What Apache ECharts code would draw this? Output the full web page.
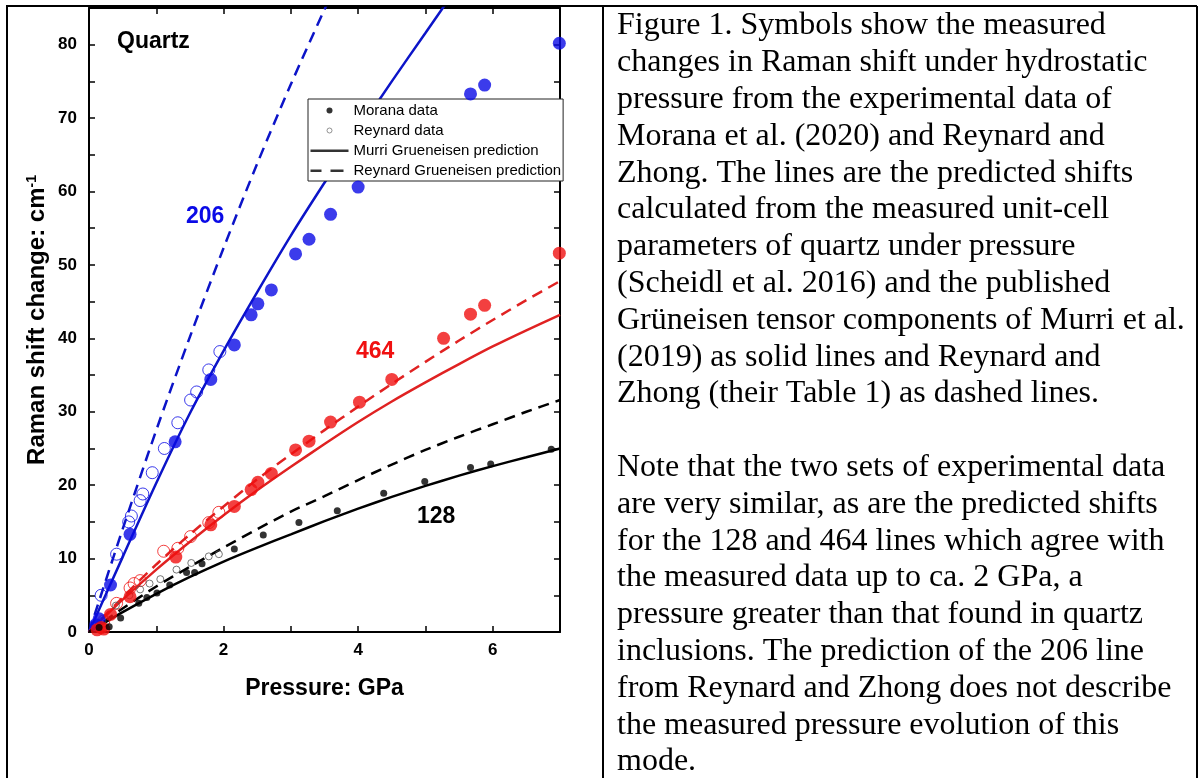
<!DOCTYPE html>
<html>
<head>
<meta charset="utf-8">
<script src="https://cdn.jsdelivr.net/npm/echarts@6/dist/echarts.min.js"></script>
<style>
  html, body { margin: 0; padding: 0; background: #fff; }
  #main { width: 1201px; height: 778px; }
</style>
</head>
<body>
<div id="main"></div>
<script>
var sans = '"Liberation Sans", Arial, sans-serif';
var serif = '"Liberation Serif", "Times New Roman", serif';

// tick labels
var xLabelTicks = [0, 2, 4, 6];
var yLabelTicks = [0, 10, 20, 30, 40, 50, 60, 70, 80];

// 206 mode (blue)
var morana206 = [[0.1, 1.0], [0.15, 1.8], [0.32, 6.4], [0.61, 13.3], [1.28, 25.9], [1.81, 34.4], [2.16, 39.1],
  [2.41, 43.2], [2.51, 44.7], [2.71, 46.6], [3.07, 51.5], [3.27, 53.5], [3.59, 56.9], [4.0, 60.6],
  [5.67, 73.3], [5.88, 74.5], [6.99, 80.2]];
var reynard206 = [[0.18, 5.0], [0.41, 10.6], [0.59, 15.0], [0.63, 15.8], [0.76, 17.9], [0.8, 18.8], [0.94, 21.7],
  [1.12, 25.0], [1.32, 28.5], [1.51, 31.6], [1.6, 32.7], [1.78, 35.7], [1.945, 38.2]];
var murri206 = [[0, 0], [0.5, 10.2], [1, 20.3], [1.5, 29.8], [2, 38.3], [2.5, 46.3], [3, 54.0], [3.5, 61.2],
  [4, 68.2], [4.5, 75.0], [5, 81.6], [5.5, 88.2]];
var reynardPred206 = [[0, 0], [0.5, 14.0], [1, 27.5], [1.5, 40.2], [2, 52.3], [2.5, 63.8], [3, 74.6], [3.5, 84.8], [4, 94.5]];

// 464 mode (red)
var morana464 = [[0.12, 0.3], [0.18, 0.6], [0.22, 0.4], [0.32, 2.4], [0.61, 4.8], [1.29, 10.2], [1.81, 14.6],
  [2.16, 17.1], [2.41, 19.4], [2.51, 20.4], [2.71, 21.6], [3.07, 24.8], [3.27, 26.0], [3.59, 28.6], [4.02, 31.3],
  [4.5, 34.4], [5.27, 40.0], [5.67, 43.3], [5.88, 44.5], [6.99, 51.6]];
var reynard464 = [[0.22, 1.5], [0.41, 3.9], [0.61, 6.0], [0.67, 6.6], [0.76, 7.0], [1.11, 11.0], [1.32, 11.4],
  [1.51, 13.0], [1.78, 14.9], [1.93, 16.3]];
var murri464 = [[0, 0], [0.5, 4.4], [1, 8.5], [1.5, 12.3], [2, 15.9], [2.5, 19.3], [3, 22.5], [3.5, 25.6],
  [4, 28.6], [4.5, 31.4], [5, 34.0], [5.5, 36.5], [6, 38.9], [6.5, 41.1], [7, 43.2]];
var reynardPred464 = [[0, 0], [0.5, 4.7], [1, 9.2], [1.5, 13.3], [2, 17.1], [2.5, 20.8], [3, 24.2], [3.5, 27.5],
  [4, 30.7], [4.5, 33.8], [5, 36.8], [5.5, 39.7], [6, 42.5], [6.5, 45.2], [7, 47.8]];

// 128 mode (black)
var morana128 = [[0.15, 0.6], [0.3, 0.7], [0.47, 1.9], [0.74, 3.9], [0.86, 4.7], [1.01, 5.3], [1.2, 6.4],
  [1.45, 8.1], [1.57, 8.1], [1.68, 9.3], [2.16, 11.3], [2.59, 13.2], [3.12, 14.9], [3.69, 16.5], [4.38, 18.9],
  [4.99, 20.5], [5.67, 22.4], [5.97, 22.9], [6.87, 24.9]];
var reynard128 = [[0.2, 1.5], [0.4, 3.6], [0.6, 5.0], [0.76, 5.8], [0.9, 6.6], [1.06, 7.2], [1.3, 8.5],
  [1.52, 9.4], [1.78, 10.3], [1.93, 10.6]];
var murri128 = [[0, 0], [0.5, 2.7], [1, 5.2], [1.5, 7.5], [2, 9.6], [2.5, 11.5], [3, 13.3], [3.5, 15.1],
  [4, 16.8], [4.5, 18.4], [5, 19.9], [5.5, 21.3], [6, 22.6], [6.5, 23.8], [7, 25.0]];
var reynardPred128 = [[0, 0], [0.5, 3.2], [1, 6.2], [1.5, 8.9], [2, 11.5], [2.5, 14.0], [3, 16.4], [3.5, 18.5],
  [4, 20.7], [4.5, 22.8], [5, 24.8], [5.5, 26.6], [6, 28.3], [6.5, 30.0], [7, 31.6]];

var captionLines = [
  'Figure 1. Symbols show the measured',
  'changes in Raman shift under hydrostatic',
  'pressure from the experimental data of',
  'Morana et al. (2020) and Reynard and',
  'Zhong. The lines are the predicted shifts',
  'calculated from the measured unit-cell',
  'parameters of quartz under pressure',
  '(Scheidl et al. 2016) and the published',
  'Grüneisen tensor components of Murri et al.',
  '(2019) as solid lines and Reynard and',
  'Zhong (their Table 1) as dashed lines.',
  '',
  'Note that the two sets of experimental data',
  'are very similar, as are the predicted shifts',
  'for the 128 and 464 lines which agree with',
  'the measured data up to ca. 2 GPa, a',
  'pressure greater than that found in quartz',
  'inclusions. The prediction of the 206 line',
  'from Reynard and Zhong does not describe',
  'the measured pressure evolution of this',
  'mode.'
];

var blue = '#0a0ae6';
var blueLine = '#0c14c8';
var red = '#f01010';
var redLine = '#e02222';
var dash = [11, 7];

function dots(name, data, color, size) {
  return { name: name, type: 'scatter', data: data, symbol: 'circle', symbolSize: size,
    itemStyle: { color: color }, z: 4, silent: true };
}
function rings(name, data, color, size) {
  return { name: name, type: 'scatter', data: data, symbol: 'circle', symbolSize: size,
    itemStyle: { color: 'rgba(255,255,255,0)', borderColor: color, borderWidth: 1 }, z: 3, silent: true };
}
function curve(name, data, color, type) {
  return { name: name, type: 'line', data: data, symbol: 'none', smooth: 0.3,
    lineStyle: { color: color, width: 2.5, type: type }, z: 2, silent: true };
}

var axisLine = { show: true, onZero: false, lineStyle: { color: '#000', width: 2 } };
var axisTick = { show: true, inside: true, length: 6, lineStyle: { color: '#000', width: 1.5 } };
var labelFont = { color: '#000', fontSize: 17, fontWeight: 'bold', fontFamily: sans };

var elements = [];
// table borders
elements.push({ type: 'line', shape: { x1: 6, y1: 6, x2: 1197, y2: 6 }, style: { stroke: '#000', lineWidth: 2 } });
elements.push({ type: 'line', shape: { x1: 7, y1: 6, x2: 7, y2: 778 }, style: { stroke: '#000', lineWidth: 2 } });
elements.push({ type: 'line', shape: { x1: 603, y1: 6, x2: 603, y2: 778 }, style: { stroke: '#000', lineWidth: 2 } });
elements.push({ type: 'line', shape: { x1: 1197, y1: 6, x2: 1197, y2: 778 }, style: { stroke: '#000', lineWidth: 2 } });
// caption
captionLines.forEach(function (t, i) {
  if (!t) return;
  elements.push({ type: 'text', x: 617, y: 26 + i * 36.8,
    style: { text: t, font: '32px ' + serif, fill: '#000', verticalAlign: 'middle' } });
});
// in-plot annotations
var notes = [
  { text: 'Quartz', x: 117, y: 42, color: '#000' },
  { text: '206', x: 186, y: 217, color: blue },
  { text: '464', x: 356, y: 352, color: red },
  { text: '128', x: 417, y: 517, color: '#000' }
];
notes.forEach(function (n) {
  elements.push({ type: 'text', x: n.x, y: n.y, z: 10,
    style: { text: n.text, font: 'bold 23px ' + sans, fill: n.color, verticalAlign: 'middle' } });
});

var chart = echarts.init(document.getElementById('main'));
chart.setOption({
  animation: false,
  backgroundColor: '#fff',
  grid: { left: 89, top: 8, right: 641, bottom: 146 },
  legend: {
    orient: 'vertical', left: 308, top: 99,
    padding: [4, 2, 3, 2], itemGap: 5, itemWidth: 38, itemHeight: 14,
    backgroundColor: '#fff', borderColor: '#222', borderWidth: 1,
    textStyle: { color: '#000', fontSize: 15, fontFamily: sans },
    selectedMode: false,
    data: [
      { name: 'Morana data', icon: 'path://M0,0M38,14M16,7a3,3,0,1,0,6,0a3,3,0,1,0,-6,0z',
        itemStyle: { color: '#000', borderWidth: 0 } },
      { name: 'Reynard data', icon: 'path://M0,0M38,14M16.5,7a2.5,2.5,0,1,0,5,0a2.5,2.5,0,1,0,-5,0z',
        itemStyle: { color: '#fff', borderColor: '#777', borderWidth: 1 } },
      { name: 'Murri Grueneisen prediction', icon: 'path://M0,0M38,14M0,6h38v2.5h-38z',
        itemStyle: { color: '#000', borderWidth: 0 } },
      { name: 'Reynard Grueneisen prediction', icon: 'path://M0,0M38,14M0,6h11v2.5h-11zM20,6h13v2.5h-13z',
        itemStyle: { color: '#000', borderWidth: 0 } }
    ]
  },
  xAxis: [{
    type: 'value', min: 0, max: 7, interval: 1, position: 'bottom',
    axisLine: axisLine, axisTick: axisTick, splitLine: { show: false },
    axisLabel: Object.assign({ margin: 10, formatter: function (v) { return xLabelTicks.indexOf(v) >= 0 ? String(v) : ''; } }, labelFont),
    name: 'Pressure: GPa', nameLocation: 'middle', nameGap: 45,
    nameTextStyle: { color: '#000', fontSize: 23, fontWeight: 'bold', fontFamily: sans }
  }, {
    type: 'value', min: 0, max: 7, interval: 1, position: 'top',
    axisLine: axisLine, axisTick: axisTick, splitLine: { show: false }, axisLabel: { show: false }
  }],
  yAxis: [{
    type: 'value', min: 0, max: 85, interval: 5, position: 'left',
    axisLine: axisLine, axisTick: axisTick, splitLine: { show: false },
    axisLabel: Object.assign({ margin: 12, formatter: function (v) { return yLabelTicks.indexOf(v) >= 0 ? String(v) : ''; } }, labelFont),
    name: 'Raman shift change: cm{sup|-1}', nameLocation: 'middle', nameGap: 40, nameRotate: 90,
    nameTextStyle: { color: '#000', fontSize: 24, fontWeight: 'bold', fontFamily: sans,
      rich: { sup: { fontSize: 14, fontWeight: 'bold', fontFamily: sans, color: '#000', verticalAlign: 'top', padding: [0, 0, 10, 0] } } }
  }, {
    type: 'value', min: 0, max: 85, interval: 5, position: 'right',
    axisLine: axisLine, axisTick: axisTick, splitLine: { show: false }, axisLabel: { show: false }
  }],
  series: [
    curve('Murri 206', murri206, blueLine, 'solid'),
    curve('Reynard prediction 206', reynardPred206, blueLine, dash),
    curve('Murri 464', murri464, redLine, 'solid'),
    curve('Reynard prediction 464', reynardPred464, redLine, dash),
    curve('Murri 128', murri128, '#000', 'solid'),
    curve('Reynard prediction 128', reynardPred128, '#000', dash),
    rings('Reynard 206', reynard206, blue, 12),
    rings('Reynard 464', reynard464, red, 12),
    rings('Reynard 128', reynard128, '#555', 7),
    dots('Morana 206', morana206, blue, 13),
    dots('Morana 464', morana464, red, 13),
    dots('Morana 128', morana128, '#000', 7),
    // legend-only entries
    { name: 'Morana data', type: 'scatter', data: [], itemStyle: { color: '#000' } },
    { name: 'Reynard data', type: 'scatter', data: [], itemStyle: { color: '#fff', borderColor: '#777' } },
    { name: 'Murri Grueneisen prediction', type: 'scatter', data: [], itemStyle: { color: '#000' } },
    { name: 'Reynard Grueneisen prediction', type: 'scatter', data: [], itemStyle: { color: '#000' } }
  ],
  graphic: { elements: elements }
});
</script>
</body>
</html>
